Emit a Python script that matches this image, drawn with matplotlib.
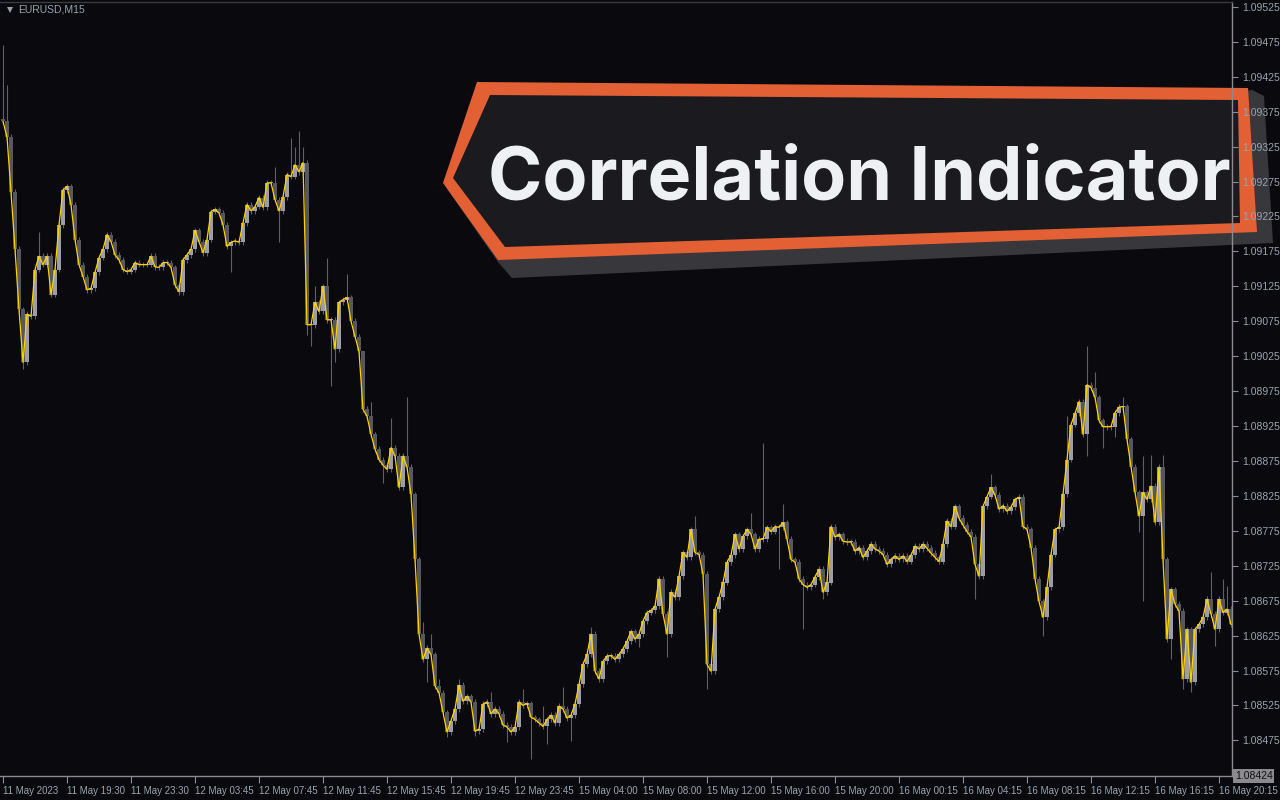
import numpy as np
import matplotlib.pyplot as plt
from matplotlib.patches import Polygon

# EURUSD M15 closes, 11 May 15:30 -> 16 May 20:45
closes = [
    1.09361, 1.09339, 1.09260, 1.09178, 1.09092, 1.09016, 1.09085, 1.09082, 1.09149, 1.09168,
    1.09156, 1.09168, 1.09113, 1.09149, 1.09213, 1.09263, 1.09268, 1.09242, 1.09192, 1.09156,
    1.09139, 1.09120, 1.09122, 1.09145, 1.09166, 1.09178, 1.09199, 1.09189, 1.09170, 1.09163,
    1.09149, 1.09146, 1.09149, 1.09159, 1.09156, 1.09156, 1.09156, 1.09168, 1.09153, 1.09152,
    1.09159, 1.09159, 1.09152, 1.09127, 1.09117, 1.09163, 1.09170, 1.09178, 1.09205, 1.09189,
    1.09173, 1.09192, 1.09232, 1.09235, 1.09230, 1.09213, 1.09182, 1.09188, 1.09190, 1.09188,
    1.09216, 1.09242, 1.09233, 1.09239, 1.09252, 1.09238, 1.09273, 1.09273, 1.09249, 1.09233,
    1.09253, 1.09285, 1.09282, 1.09299, 1.09289, 1.09302, 1.09070, 1.09070, 1.09102, 1.09089,
    1.09125, 1.09077, 1.09077, 1.09035, 1.09102, 1.09106, 1.09109, 1.09075, 1.09053, 1.09032,
    1.08949, 1.08939, 1.08913, 1.08892, 1.08877, 1.08869, 1.08863, 1.08894, 1.08882, 1.08837,
    1.08882, 1.08866, 1.08827, 1.08734, 1.08627, 1.08591, 1.08607, 1.08598, 1.08553, 1.08543,
    1.08515, 1.08487, 1.08503, 1.08520, 1.08554, 1.08531, 1.08538, 1.08530, 1.08488, 1.08491,
    1.08527, 1.08530, 1.08513, 1.08520, 1.08513, 1.08497, 1.08494, 1.08487, 1.08494, 1.08530,
    1.08525, 1.08528, 1.08508, 1.08505, 1.08500, 1.08495, 1.08505, 1.08511, 1.08500, 1.08524,
    1.08520, 1.08507, 1.08511, 1.08527, 1.08555, 1.08584, 1.08598, 1.08627, 1.08574, 1.08563,
    1.08588, 1.08596, 1.08596, 1.08591, 1.08598, 1.08606, 1.08617, 1.08631, 1.08620, 1.08627,
    1.08646, 1.08658, 1.08661, 1.08667, 1.08706, 1.08656, 1.08627, 1.08687, 1.08680, 1.08710,
    1.08744, 1.08737, 1.08777, 1.08744, 1.08741, 1.08713, 1.08584, 1.08574, 1.08663, 1.08680,
    1.08701, 1.08730, 1.08740, 1.08770, 1.08749, 1.08767, 1.08777, 1.08770, 1.08749, 1.08763,
    1.08763, 1.08780, 1.08774, 1.08781, 1.08780, 1.08787, 1.08763, 1.08734, 1.08730, 1.08706,
    1.08698, 1.08694, 1.08698, 1.08709, 1.08720, 1.08687, 1.08701, 1.08781, 1.08766, 1.08770,
    1.08760, 1.08759, 1.08759, 1.08746, 1.08751, 1.08737, 1.08746, 1.08756, 1.08749, 1.08746,
    1.08741, 1.08727, 1.08734, 1.08739, 1.08734, 1.08739, 1.08731, 1.08740, 1.08753, 1.08749,
    1.08756, 1.08750, 1.08743, 1.08737, 1.08731, 1.08756, 1.08789, 1.08781, 1.08810, 1.08793,
    1.08783, 1.08774, 1.08766, 1.08727, 1.08710, 1.08810, 1.08824, 1.08837, 1.08826, 1.08806,
    1.08811, 1.08803, 1.08809, 1.08820, 1.08823, 1.08781, 1.08777, 1.08751, 1.08706, 1.08674,
    1.08651, 1.08694, 1.08741, 1.08777, 1.08780, 1.08827, 1.08877, 1.08927, 1.08943, 1.08960,
    1.08913, 1.08984, 1.08980, 1.08966, 1.08933, 1.08924, 1.08924, 1.08924, 1.08944, 1.08952,
    1.08953, 1.08906, 1.08867, 1.08830, 1.08796, 1.08830, 1.08820, 1.08839, 1.08787, 1.08866,
    1.08734, 1.08620, 1.08691, 1.08670, 1.08660, 1.08563, 1.08634, 1.08558, 1.08634, 1.08641,
    1.08651, 1.08677, 1.08656, 1.08634, 1.08677, 1.08658, 1.08663, 1.08641,
]
first_open = 1.09365

# long wicks that stand out (bar index -> price)
wick_highs = {
    0: 1.09471, 1: 1.09413, 9: 1.09203, 68: 1.09296, 72: 1.09338, 73: 1.09325,
    74: 1.09348, 75: 1.09325, 78: 1.09125, 81: 1.09166, 86: 1.09142, 90: 1.08959,
    92: 1.08959, 97: 1.08937, 101: 1.08967, 105: 1.08644, 107: 1.08627, 109: 1.08563,
    114: 1.08563, 122: 1.08544, 130: 1.08548, 135: 1.08524, 140: 1.08551, 147: 1.08637,
    173: 1.08796, 187: 1.08801, 190: 1.08901, 195: 1.08813, 247: 1.08856, 266: 1.08939,
    271: 1.09040, 273: 1.09002, 280: 1.08966, 285: 1.08882, 287: 1.08884, 290: 1.08884,
    302: 1.08716, 305: 1.08706, 306: 1.08696,
}
wick_lows = {
    5: 1.09006, 57: 1.09145, 69: 1.09189, 76: 1.09056, 77: 1.09039, 82: 1.08982,
    83: 1.09016, 95: 1.08844, 106: 1.08558, 111: 1.08480, 118: 1.08481, 126: 1.08472,
    132: 1.08448, 136: 1.08470, 142: 1.08474, 159: 1.08608, 166: 1.08594, 176: 1.08548,
    194: 1.08720, 200: 1.08634, 205: 1.08677, 243: 1.08677, 260: 1.08624, 271: 1.08882,
    275: 1.08894, 278: 1.08910, 284: 1.08773, 285: 1.08674, 292: 1.08591, 295: 1.08548,
    297: 1.08544, 303: 1.08610,
}
typical_wick = 0.00004

time_labels = ['11 May 2023', '11 May 19:30', '11 May 23:30', '12 May 03:45', '12 May 07:45',
               '12 May 11:45', '12 May 15:45', '12 May 19:45', '12 May 23:45', '15 May 04:00',
               '15 May 08:00', '15 May 12:00', '15 May 16:00', '15 May 20:00', '16 May 00:15',
               '16 May 04:15', '16 May 08:15', '16 May 12:15', '16 May 16:15', '16 May 20:15']
bars_per_label = 16

price_ticks = [1.08475, 1.08525, 1.08575, 1.08625, 1.08675, 1.08725, 1.08775, 1.08825,
               1.08875, 1.08925, 1.08975, 1.09025, 1.09075, 1.09125, 1.09175, 1.09225,
               1.09275, 1.09325, 1.09375, 1.09425, 1.09475, 1.09525]
chart_low = 1.08424
chart_high = 1.09532

symbol = 'EURUSD,M15'
title = 'Correlation Indicator'

# colours
BG = '#0a0a0e'
AXIS = '#8a8a90'
TXT = '#9aa3b0'
BULL = '#9d9da6'
BEAR = '#57575d'
WICK = '#606066'
LINE = '#ffd200'
FONT = 'Liberation Sans'

closes = np.array(closes)
n = len(closes)
x = np.arange(n)
opens = np.concatenate([[first_open], closes[:-1]])
top = np.maximum(opens, closes)
bot = np.minimum(opens, closes)
highs = np.array([wick_highs.get(i, top[i] + typical_wick) for i in range(n)])
lows = np.array([wick_lows.get(i, bot[i] - typical_wick) for i in range(n)])
bull = closes >= opens

fig = plt.figure(figsize=(12.8, 8), dpi=100, facecolor=BG)

# banner layer in pixel coordinates, drawn under the chart
ov = fig.add_axes([0, 0, 1, 1], zorder=0)
ov.set_xlim(0, 1280)
ov.set_ylim(800, 0)
ov.axis('off')
ov.patch.set_alpha(0)

shadow = [(448, 190), (1252, 90), (1264, 96), (1273, 243), (512, 278), (498, 262)]
outer = [(477, 82), (1248, 88), (1257, 232), (498, 260), (443, 183)]
inner = [(490, 95), (1238, 100), (1240, 223), (505, 247), (453, 178)]
ov.add_patch(Polygon(shadow, closed=True, fc='#38383c', ec='none'))
ov.add_patch(Polygon(outer, closed=True, fc='#e26034', ec='none'))
ov.add_patch(Polygon(inner, closed=True, fc='#1b1b1f', ec='none'))
ov.text(859, 200, title, fontsize=53, fontweight='bold', family='Inter',
        color='#eff0f4', ha='center', va='baseline')

ov.plot([10], [10], marker='v', ms=4, color=TXT, mew=0)
ov.text(18, 10, symbol, fontsize=7.5, color=TXT, va='center', ha='left', family=FONT)

ax = fig.add_axes([0, 24 / 800, 1232 / 1280, 774 / 800], zorder=1)
ax.patch.set_alpha(0)

ax.vlines(x, lows, highs, color=WICK, lw=0.8, zorder=1)
heights = np.maximum(top - bot, 0.000012)
ax.bar(x[bull], heights[bull], bottom=bot[bull], width=0.8, color=BULL, lw=0, zorder=2)
ax.bar(x[~bull], heights[~bull], bottom=bot[~bull], width=0.8, color=BEAR, lw=0, zorder=2)
ax.plot(x, closes, color=LINE, lw=0.9, zorder=3)

ax.set_xlim(-0.75, (1232 - 3) / 4)
ax.set_ylim(chart_low, chart_high)

ax.spines['left'].set_visible(False)
for side in ['right', 'bottom', 'top']:
    ax.spines[side].set_color(AXIS)
    ax.spines[side].set_linewidth(1)
ax.spines['top'].set_color('#3a3a40')

ax.yaxis.tick_right()
ax.set_yticks(price_ticks)
ax.set_yticklabels([f'{p:.5f}' for p in price_ticks])
ax.set_xticks(np.arange(len(time_labels)) * bars_per_label)
ax.set_xticklabels(time_labels)
for lab in ax.get_xticklabels():
    lab.set_ha('left')
    lab.set_family(FONT)
for lab in ax.get_yticklabels():
    lab.set_family(FONT)
ax.tick_params(axis='y', colors=AXIS, labelcolor=TXT, labelsize=7.5, length=4, pad=3)
ax.tick_params(axis='x', colors=AXIS, labelcolor=TXT, labelsize=7, length=5, pad=2)

# current-low price box on the price scale
ax.text(1.0 + 3 / 1232, chart_low, f'{chart_low:.5f}', transform=ax.get_yaxis_transform(),
        fontsize=7.5, family=FONT, color='#111114', ha='left', va='center',
        bbox=dict(boxstyle='square,pad=0.15', fc='#8b8b8f', ec='none'), clip_on=False)

fig.savefig('out.png', dpi=100, facecolor=BG)
